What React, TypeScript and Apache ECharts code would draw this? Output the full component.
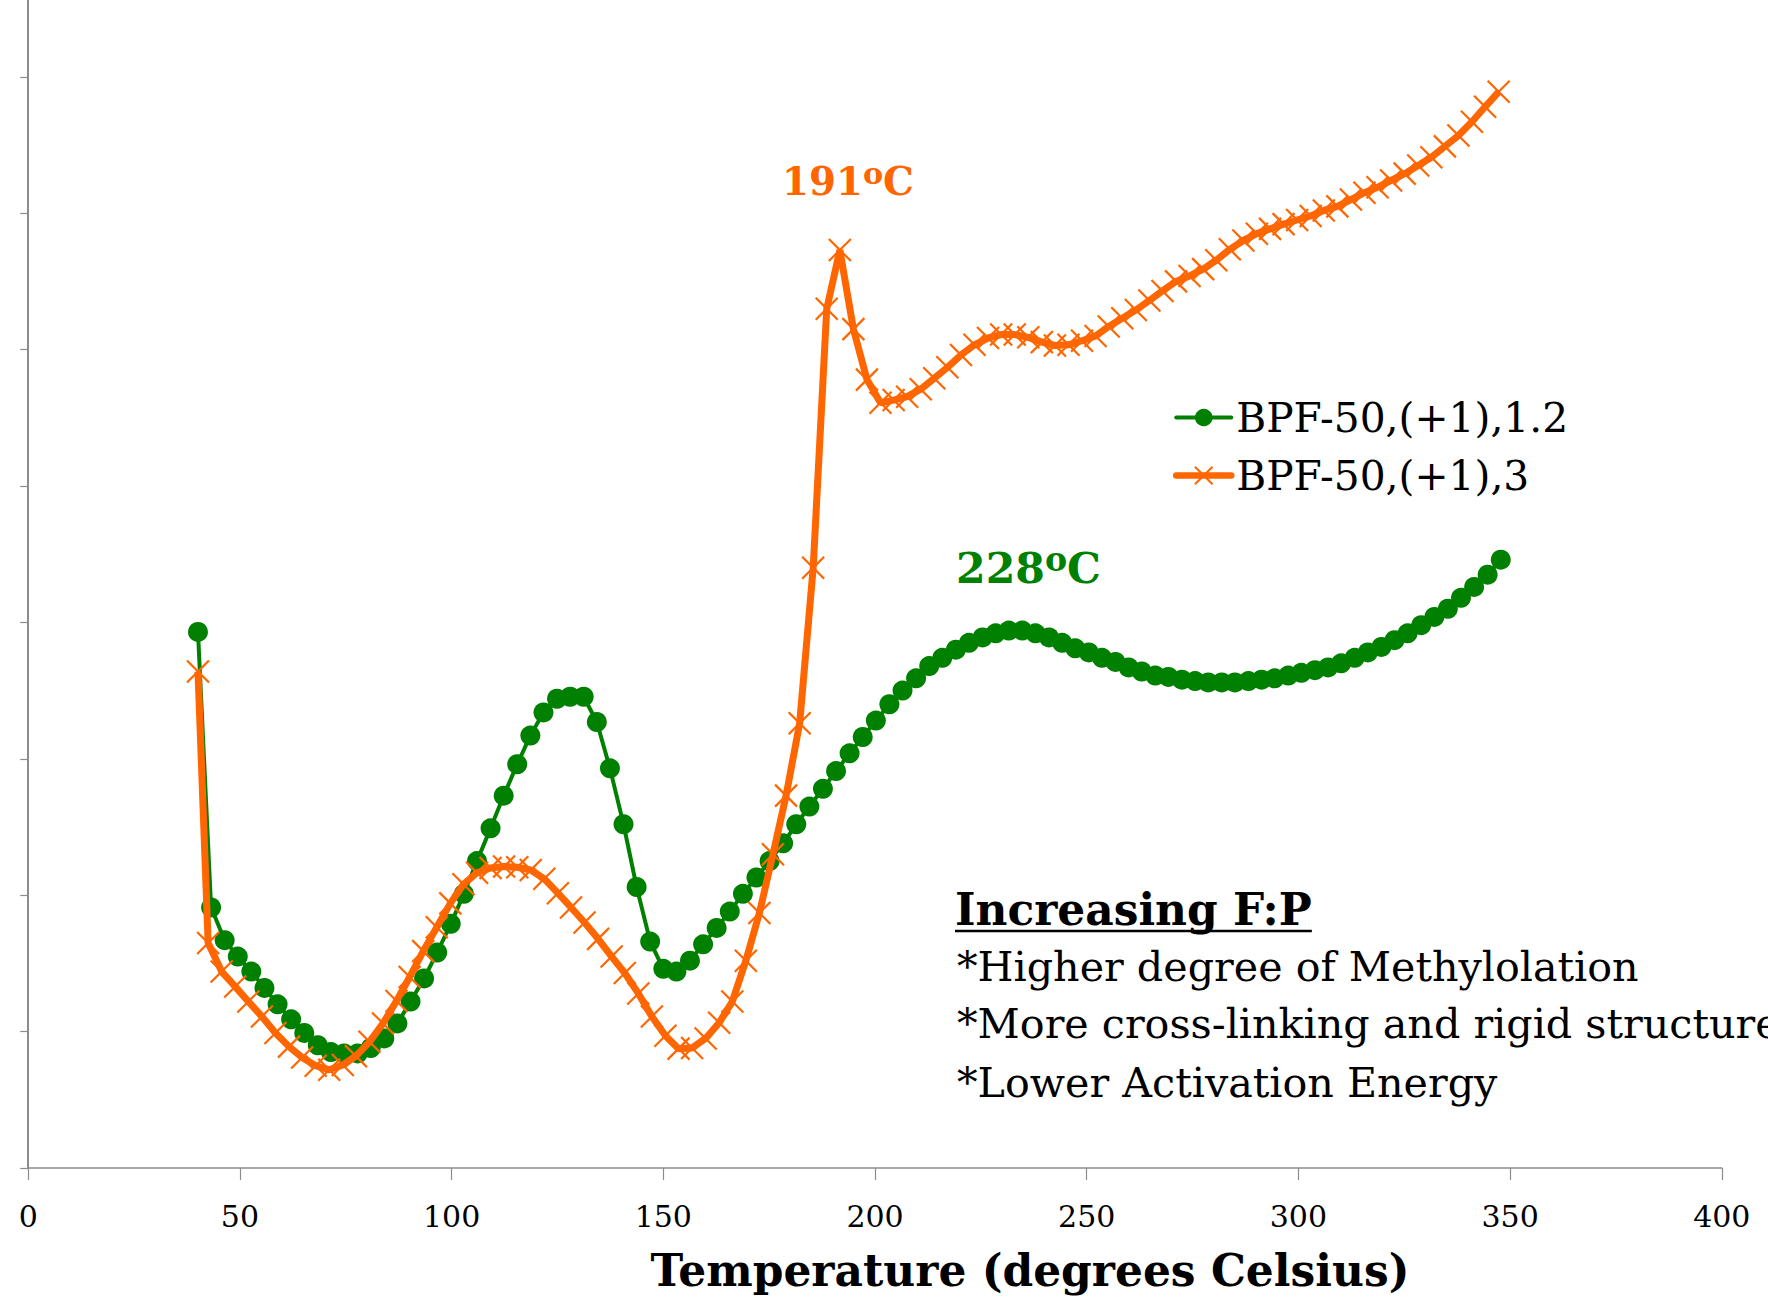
import React, { useEffect, useRef } from 'react';
import * as echarts from 'echarts';

// ---------------- data ----------------
// Green series: BPF-50,(+1),1.2
const greenTemps = [
  40.1, 43.2, 46.4, 49.5, 52.7, 55.8, 58.9, 62.1, 65.2, 68.4,
  71.5, 74.6, 77.8, 80.9, 84.1, 87.2, 90.3, 93.5, 96.6, 99.8,
  102.9, 106.0, 109.2, 112.3, 115.5, 118.6, 121.7, 124.9, 128.0, 131.2,
  134.3, 137.4, 140.6, 143.7, 146.9, 150.0, 153.1, 156.3, 159.4, 162.6,
  165.7, 168.8, 172.0, 175.1, 178.3, 181.4, 184.5, 187.7, 190.8, 194.0,
  197.1, 200.2, 203.4, 206.5, 209.7, 212.8, 215.9, 219.1, 222.2, 225.4,
  228.5, 231.6, 234.8, 237.9, 241.1, 244.2, 247.3, 250.5, 253.6, 256.8,
  259.9, 263.0, 266.2, 269.3, 272.5, 275.6, 278.7, 281.9, 285.0, 288.2,
  291.3, 294.4, 297.6, 300.7, 303.9, 307.0, 310.1, 313.3, 316.4, 319.6,
  322.7, 325.8, 329.0, 332.1, 335.3, 338.4, 341.5, 344.7, 347.8,
];

const greenVals = [
  3.93, 1.91, 1.67, 1.55, 1.44, 1.32, 1.20, 1.09, 0.99, 0.90,
  0.85, 0.84, 0.84, 0.88, 0.95, 1.06, 1.22, 1.39, 1.58, 1.79,
  2.01, 2.25, 2.49, 2.73, 2.96, 3.17, 3.34, 3.44, 3.455, 3.455,
  3.27, 2.93, 2.52, 2.06, 1.66, 1.46, 1.44, 1.52, 1.64, 1.76,
  1.88, 2.01, 2.13, 2.25, 2.38, 2.52, 2.65, 2.78, 2.91, 3.04,
  3.16, 3.28, 3.40, 3.50, 3.59, 3.68, 3.74, 3.80, 3.85, 3.89,
  3.92, 3.94, 3.94, 3.92, 3.89, 3.85, 3.81, 3.78, 3.74, 3.71,
  3.67, 3.64, 3.61, 3.60, 3.58, 3.57, 3.56, 3.56, 3.56, 3.57,
  3.58, 3.59, 3.61, 3.63, 3.65, 3.67, 3.70, 3.74, 3.78, 3.82,
  3.87, 3.92, 3.98, 4.04, 4.10, 4.18, 4.26, 4.35, 4.46,
];

// Orange series: BPF-50,(+1),3
const orangeTemps = [
  40.1, 42.5, 45.7, 48.9, 52.0, 55.2, 58.4, 61.6, 64.7, 67.9,
  71.1, 74.3, 77.4, 80.6, 83.8, 87.0, 90.1, 93.3, 96.5, 99.7,
  102.8, 106.0, 109.2, 112.4, 115.5, 118.7, 121.9, 125.1, 128.2, 131.4,
  134.6, 137.8, 140.9, 144.1, 147.3, 150.5, 153.6, 156.8, 160.0, 163.2,
  166.3, 169.5, 172.7, 175.9, 179.0, 182.2, 185.4, 188.6, 191.7, 194.9,
  198.1, 201.3, 204.4, 207.6, 210.8, 214.0, 217.1, 220.3, 223.5, 226.7,
  229.8, 233.0, 236.2, 239.4, 242.5, 245.7, 248.9, 252.1, 255.2, 258.4,
  261.6, 264.8, 267.9, 271.1, 274.3, 277.5, 280.6, 283.8, 287.0, 290.2,
  293.3, 296.5, 299.7, 302.9, 306.0, 309.2, 312.4, 315.6, 318.7, 321.9,
  325.1, 328.3, 331.4, 334.6, 337.8, 341.0, 344.1, 347.3,
];

const orangeVals = [
  3.64, 1.65, 1.44, 1.33, 1.22, 1.11, 0.99, 0.89, 0.81, 0.75,
  0.72, 0.755, 0.82, 0.925, 1.06, 1.225, 1.40, 1.59, 1.765, 1.94,
  2.08, 2.165, 2.20, 2.21, 2.205, 2.185, 2.12, 2.015, 1.91, 1.80,
  1.68, 1.55, 1.43, 1.28, 1.11, 0.97, 0.875, 0.88, 0.95, 1.065,
  1.22, 1.52, 1.87, 2.30, 2.73, 3.26, 4.40, 6.30, 6.73, 6.15,
  5.78, 5.61, 5.63, 5.655, 5.71, 5.79, 5.87, 5.96, 6.035, 6.085,
  6.11, 6.11, 6.09, 6.055, 6.03, 6.035, 6.065, 6.10, 6.17, 6.23,
  6.29, 6.36, 6.43, 6.50, 6.54, 6.59, 6.655, 6.735, 6.80, 6.85,
  6.885, 6.92, 6.95, 6.98, 7.02, 7.05, 7.10, 7.15, 7.19, 7.24,
  7.29, 7.35, 7.41, 7.49, 7.57, 7.67, 7.78, 7.89,
];

const seriesNames = ['BPF-50,(+1),1.2', 'BPF-50,(+1),3'];
const peakLabels = ['191', '228'];
const noteTitle = 'Increasing F:P';
const noteLines = [
  '*Higher degree of Methylolation',
  '*More cross-linking and rigid structure',
  '*Lower Activation Energy',
];
const axisTitle = 'Temperature (degrees Celsius)';

// ---------------- helpers ----------------
const FAMILY = '"DejaVu Serif", serif';
const CENTRAL = 0.346; // central-baseline offset (em) of DejaVu Serif
const GREEN = '#008000';
const ORANGE = '#FF6600';

function measure(text: string, size: number, bold: boolean): number {
  const ctx = document.createElement('canvas').getContext('2d');
  if (!ctx) return text.length * size * 0.6;
  ctx.font = `${bold ? 'bold ' : ''}${size}px "DejaVu Serif"`;
  const w = ctx.measureText(text).width;
  return w > 0 ? w : text.length * size * 0.6;
}

function fit(text: string, bold: boolean, target: number): number {
  return (target / measure(text, 100, bold)) * 100;
}

function txt(text: string, x: number, baseline: number, size: number, bold: boolean, color: string, align = 'left') {
  return {
    type: 'text',
    x,
    y: baseline - CENTRAL * size,
    silent: true,
    style: {
      text,
      font: `${bold ? 'bold ' : ''}${size}px ${FAMILY}`,
      fill: color,
      align,
      textAlign: align,
      verticalAlign: 'middle',
      textVerticalAlign: 'middle',
    },
  };
}

function peak(num: string, x: number, baseline: number, target: number, color: string) {
  const SUP = 0.78;
  const k = (measure(num, 100, true) + measure('o', 100 * SUP, true) + measure('C', 100, true)) / 100;
  const size = target / k;
  const sup = size * SUP;
  const wNum = measure(num, size, true);
  const wO = measure('o', sup, true);
  const capTop = baseline - 0.729 * size;
  const supBase = capTop + 1 + 0.55 * sup;
  return [
    txt(num, x, baseline, size, true, color),
    txt('o', x + wNum, supBase, sup, true, color),
    txt('C', x + wNum + wO, baseline, size, true, color),
  ];
}

export default function App() {
  const ref = useRef<HTMLDivElement>(null);

  useEffect(() => {
    if (!ref.current) return;
    const chart = echarts.init(ref.current, undefined, { renderer: 'svg' });

    const legendSize = fit(seriesNames[0], false, 332);
    const noteSize = fit(noteLines[0], false, 682);
    const titleSize = fit(noteTitle, true, 357);
    const titleW = measure(noteTitle, titleSize, true);
    const axisTitleSize = fit(axisTitle, true, 759);

    const graphics: any[] = [
      ...peak(peakLabels[0], 782, 195, 132, ORANGE),
      ...peak(peakLabels[1], 956, 583, 145, GREEN),
      txt(noteTitle, 955, 925, titleSize, true, '#000'),
      {
        type: 'line',
        silent: true,
        shape: { x1: 955, y1: 931, x2: 955 + titleW, y2: 931 },
        style: { stroke: '#000', lineWidth: 2.5 },
      },
      txt(noteLines[0], 957, 981, noteSize, false, '#000'),
      txt(noteLines[1], 957, 1038, noteSize, false, '#000'),
      txt(noteLines[2], 957, 1097, noteSize, false, '#000'),
      txt(axisTitle, 1030, 1286, axisTitleSize, true, '#000', 'center'),
    ];

    chart.setOption({
      animation: false,
      backgroundColor: '#fff',
      grid: {
        left: 28.2,
        right: 46.2,
        top: -59.6,
        bottom: 129,
        containLabel: false,
        outerBoundsMode: 'none',
      },
      xAxis: {
        type: 'value',
        min: 0,
        max: 400,
        interval: 50,
        axisLine: { show: true, lineStyle: { color: '#8c8c8c', width: 1.5 } },
        axisTick: { show: true, length: 12, lineStyle: { color: '#8c8c8c', width: 1.2 } },
        axisLabel: { show: true, fontFamily: FAMILY, fontSize: 30, color: '#000', margin: 33 },
        splitLine: { show: false },
      },
      yAxis: {
        type: 'value',
        min: 0,
        max: 9,
        interval: 1,
        axisLine: { show: true, lineStyle: { color: '#8c8c8c', width: 2 } },
        axisTick: { show: true, length: 8, lineStyle: { color: '#8c8c8c', width: 1.2 } },
        axisLabel: { show: false },
        splitLine: { show: false },
      },
      legend: {
        orient: 'vertical',
        left: 1173,
        top: 397,
        padding: 0,
        itemWidth: 55,
        itemHeight: 22,
        itemGap: 17,
        data: [
          { name: seriesNames[0], lineStyle: { width: 4, cap: 'round', color: GREEN } },
          { name: seriesNames[1], lineStyle: { width: 6.5, cap: 'round', color: ORANGE } },
        ],
        textStyle: { fontFamily: FAMILY, fontSize: legendSize, color: '#000', lineHeight: 40 },
      },
      series: [
        {
          name: seriesNames[0],
          type: 'line',
          data: greenTemps.map((t, i) => [t, greenVals[i]]),
          symbol: 'circle',
          symbolSize: 20,
          showAllSymbol: true,
          lineStyle: { color: GREEN, width: 4 },
          itemStyle: { color: GREEN, borderWidth: 0 },
          z: 2,
        },
        {
          name: seriesNames[1],
          type: 'line',
          data: orangeTemps.map((t, i) => [t, orangeVals[i]]),
          symbol: 'path://M0,0L10,10M10,0L0,10',
          symbolSize: 22,
          showAllSymbol: true,
          lineStyle: { color: ORANGE, width: 7 },
          itemStyle: { color: ORANGE, borderColor: ORANGE, borderWidth: 2.2 },
          z: 3,
        },
      ],
      graphic: graphics,
    });

    return () => chart.dispose();
  }, []);

  return (
    <div
      ref={ref}
      style={{ position: 'fixed', left: 0, top: 0, width: 1768, height: 1297, background: '#fff' }}
    />
  );
}
